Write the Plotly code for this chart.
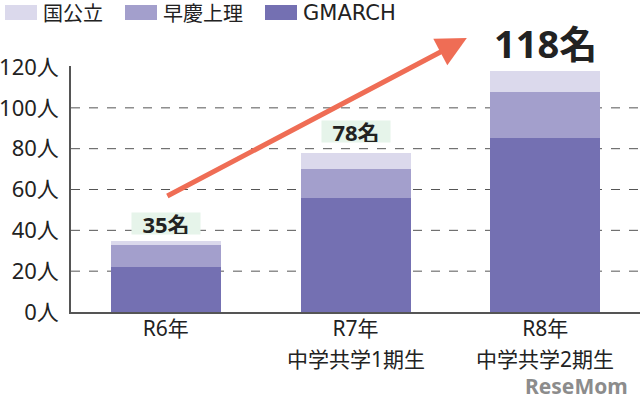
import plotly.graph_objects as go

categories = ["R6年", "R7年", "R8年"]
sub_labels = ["", "中学共学1期生", "中学共学2期生"]
gmarch = [22, 56, 85]
soukei = [11, 14, 23]
kokkouritsu = [2, 8, 10]
totals = [35, 78, 118]
total_labels = ["35名", "78名", "118名"]
y_ticks = [0, 20, 40, 60, 80, 100, 120]
y_tick_labels = [f"{v}人" for v in y_ticks]
legend_names = ["国公立", "早慶上理", "GMARCH"]

C_KOK = "#dbd9ec"
C_SOU = "#a39fcc"
C_GM = "#7470b2"
FONT = "Noto Sans, Noto Sans CJK JP, sans-serif"

x = list(range(len(categories)))
fig = go.Figure()
fig.add_bar(x=x, y=gmarch, name="GMARCH", marker_color=C_GM, width=0.58, showlegend=False,
            marker_line_width=0)
fig.add_bar(x=x, y=soukei, name="早慶上理", marker_color=C_SOU, width=0.58, showlegend=False,
            marker_line_width=0)
fig.add_bar(x=x, y=kokkouritsu, name="国公立", marker_color=C_KOK, width=0.58, showlegend=False,
            marker_line_width=0)

# gridlines (dashed) at inner ticks
for v in y_ticks[1:-1]:
    fig.add_shape(type="line", xref="paper", yref="y", x0=0, x1=1, y0=v, y1=v,
                  line=dict(color="#555555", width=1, dash="dash"), layer="below")

# second line of category labels
for i, s in enumerate(sub_labels):
    if s:
        fig.add_annotation(x=i, xref="x", yref="paper", y=0, yshift=-47, yanchor="middle",
                           text=s, showarrow=False,
                           font=dict(size=21, color="#222222", family=FONT))

# total labels
shifts = [6, 10, 0]
for i, (t, lab) in enumerate(zip(totals, total_labels)):
    big = i == len(totals) - 1
    if big:
        fig.add_annotation(x=i, y=t, text=f"<b>{lab}</b>", showarrow=False, yanchor="bottom",
                           yshift=shifts[i], font=dict(size=38, color="#222222", family=FONT))
    else:
        fig.add_annotation(x=i, y=t, text=f"<b>{lab}</b>", showarrow=False, yanchor="bottom",
                           yshift=shifts[i], width=68, height=21,
                           font=dict(size=22, color="#222222", family=FONT),
                           bgcolor="#e6f4ea", borderpad=0)

# arrow
fig.add_annotation(x=1.587, y=134.2, ax=0, ay=56.4, xref="x", yref="y", axref="x", ayref="y",
                   text="", showarrow=True, arrowhead=2, arrowsize=1.2, arrowwidth=5,
                   arrowcolor="#ef6d55")

# legend (custom swatches)
leg_colors = [C_KOK, C_SOU, C_GM]
leg_x = [5, 125, 265]
leg_fonts = [FONT, FONT, "DejaVu Sans, Noto Sans, sans-serif"]
leg_sizes = [20, 20, 21]
for nm, col, lx, lf, ls in zip(legend_names, leg_colors, leg_x, leg_fonts, leg_sizes):
    fig.add_shape(type="rect", xref="paper", yref="paper",
                  x0=(lx - 71) / 569, x1=(lx + 32 - 71) / 569,
                  y0=(312 - 20) / 246, y1=(312 - 5) / 246,
                  line=dict(width=0), fillcolor=col)
    fig.add_annotation(xref="paper", yref="paper", x=(lx + 36 - 71) / 569, y=(312 - 13) / 246,
                       xanchor="left", yanchor="middle", text=nm, showarrow=False,
                       font=dict(size=ls, color="#222222", family=lf))

# watermark
fig.add_annotation(xref="paper", yref="paper", x=1, xshift=-10, y=(312 - 386) / 246,
                   xanchor="right", yanchor="middle", text="<b>ReseMom</b>", showarrow=False,
                   font=dict(size=21, color="#8c8c8c", family=FONT))

fig.update_layout(
    barmode="stack",
    width=640, height=407,
    margin=dict(l=71, r=0, t=66, b=95, autoexpand=False),
    plot_bgcolor="white", paper_bgcolor="white",
    font=dict(family=FONT, color="#222222"),
)
fig.update_xaxes(range=[-0.5, 2.5], tickvals=x, ticktext=categories, showgrid=False,
                 showline=True, linecolor="#555555", linewidth=1.5, ticks="", automargin=False,
                 ticklabelstandoff=-3, tickfont=dict(size=21, color="#222222"))
fig.update_yaxes(range=[0, 120.5], tickvals=y_ticks, ticktext=y_tick_labels, showgrid=False,
                 showline=True, linecolor="#555555", linewidth=1.5, ticks="", zeroline=False,
                 automargin=False, ticklabelstandoff=6, tickfont=dict(size=22, color="#222222"))

fig.write_html("out.html", config={"displayModeBar": False},
               post_script="document.body.style.margin='0';document.body.style.overflow='hidden';")
